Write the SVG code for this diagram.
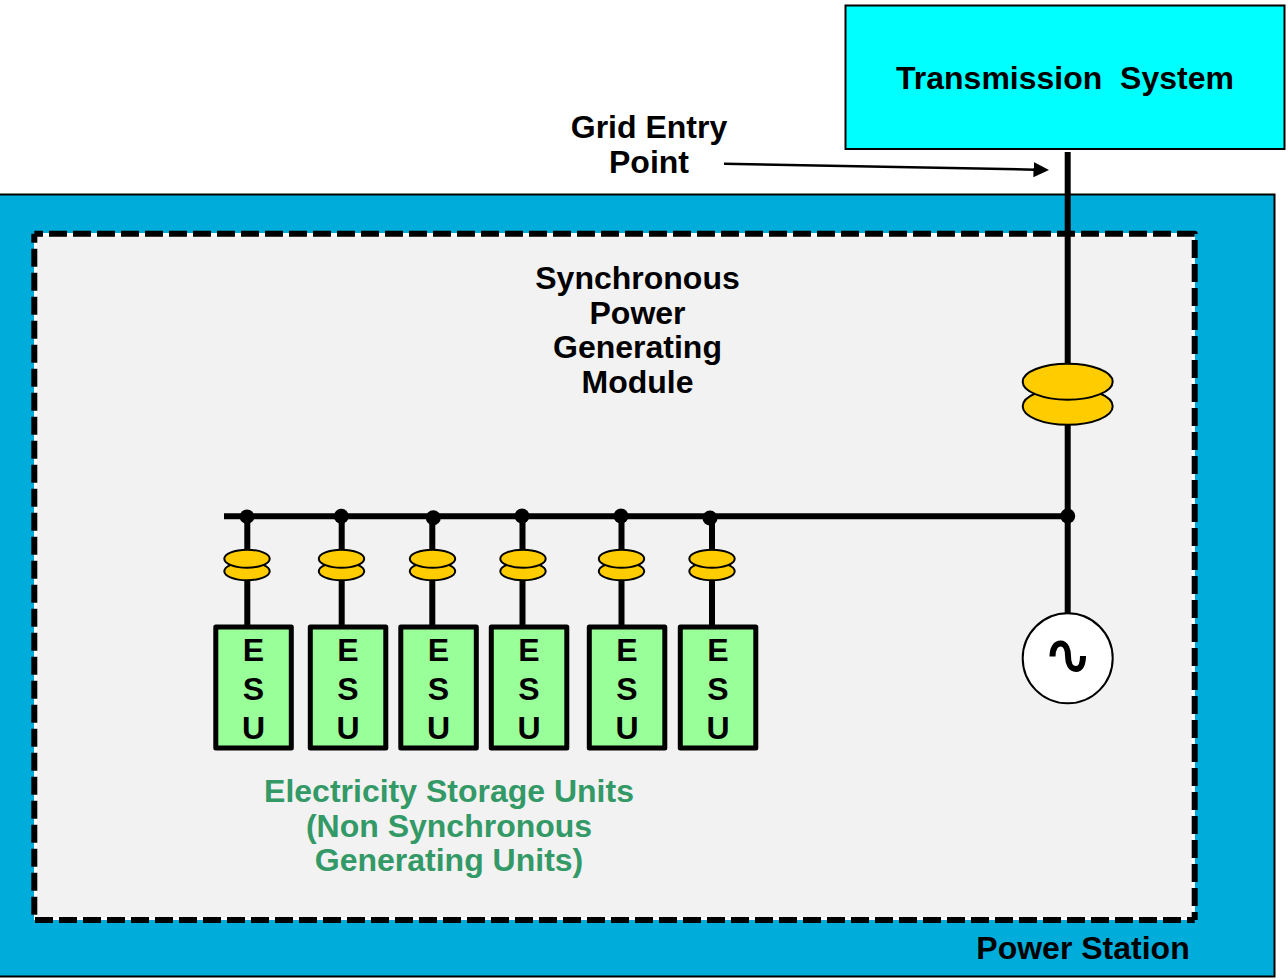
<svg xmlns="http://www.w3.org/2000/svg" width="1288" height="980" viewBox="0 0 1288 980">
<style>
text{font-family:"Liberation Sans",Arial,sans-serif;font-weight:bold;font-size:32px;text-anchor:middle;fill:#000}
.w{fill:none;stroke:#000;stroke-width:6}
.dot{fill:#000}
.ct{fill:#fc0;stroke:#000;stroke-width:2}
.esu{fill:#9f9;stroke:#000;stroke-width:5;stroke-linejoin:round}
.g{fill:#339966}
.dash{fill:none;stroke:#000;stroke-width:6;stroke-dasharray:18 6;stroke-linejoin:round}
</style>
<defs>
<marker id="arr" markerUnits="userSpaceOnUse" markerWidth="16" markerHeight="16" refX="2" refY="8" orient="auto"><path d="M0 0.300L15.500 8L0 15.700Z" fill="#000"/></marker>
<g id="ctSmall"><ellipse class="ct" cx="0" cy="12.300" rx="22.700" ry="9"/><ellipse class="ct" cx="0" cy="-0.300" rx="22.700" ry="9"/></g>
</defs>
<g id="power-station"><rect x="-3" y="194.500" width="1277.500" height="782" fill="#00acd9" stroke="#000" stroke-width="2"/><text x="1083" y="958.500">Power Station</text></g>
<g id="module"><rect x="35.500" y="234.500" width="1158" height="684" fill="#f2f2f2" stroke="#fff" stroke-width="3"/>
<path class="dash" stroke-dashoffset="9.300" d="M34.300 233.700H1194.700V920"/>
<path class="dash" stroke-dashoffset="10.300" d="M1194.700 920H34.300V233.700"/>
<text x="637.500" y="288.500">Synchronous</text><text x="637.500" y="323.500">Power</text><text x="637.500" y="358">Generating</text><text x="637.500" y="392.500">Module</text></g>
<g id="transmission-system"><rect x="845.500" y="5.500" width="439" height="143.500" fill="#0ff" stroke="#000" stroke-width="2"/><text x="1065" y="89" xml:space="preserve">Transmission  System</text></g>
<g id="grid-entry-label"><text x="649" y="137.500">Grid Entry</text><text x="649" y="172.500">Point</text></g>
<g id="connectors">
<path class="w" d="M1067.700 152V616"/>
<path class="w" d="M224 516.300H1068"/>
<path class="w" d="M247.300 517V627M341.700 517V627M432.300 517V627M522.500 517V627M621.500 517V627M712 517V627"/>
<path d="M724 163.800L1035.500 169.700" fill="none" stroke="#000" stroke-width="2.500" marker-end="url(#arr)"/>
<circle class="dot" cx="247" cy="516.700" r="7.300"/><circle class="dot" cx="341.300" cy="516.200" r="7.500"/><circle class="dot" cx="433.300" cy="517.700" r="7.500"/><circle class="dot" cx="522" cy="516" r="7.500"/><circle class="dot" cx="621" cy="516" r="7.500"/><circle class="dot" cx="710" cy="518" r="7.500"/><circle class="dot" cx="1067.700" cy="516" r="7.500"/>
</g>
<g id="main-ct"><ellipse class="ct" cx="1067.700" cy="406.300" rx="45" ry="18.500"/><ellipse class="ct" cx="1067.700" cy="381.700" rx="45" ry="18"/></g>
<g id="ct1"><use href="#ctSmall" x="247" y="559"/></g>
<g id="ct2"><use href="#ctSmall" x="341.500" y="559"/></g>
<g id="ct3"><use href="#ctSmall" x="432.500" y="559"/></g>
<g id="ct4"><use href="#ctSmall" x="523" y="559"/></g>
<g id="ct5"><use href="#ctSmall" x="621.500" y="559"/></g>
<g id="ct6"><use href="#ctSmall" x="712" y="559"/></g>
<g id="generator"><circle cx="1067.700" cy="658.300" r="45" fill="#fff" stroke="#000" stroke-width="2"/><path d="M1052.500 656.500C1052.500 648 1056 643.500 1060.500 643.500C1066 643.500 1068 650 1068 656C1068 663 1070.500 669 1076 669C1080.500 669 1083 664 1083 656" fill="none" stroke="#000" stroke-width="6"/></g>
<g id="esu1"><rect class="esu" x="215.800" y="627" width="75.500" height="121"/><text x="253.500" y="661">E</text><text x="253.500" y="699.500">S</text><text x="253.500" y="738.500">U</text></g>
<g id="esu2"><rect class="esu" x="310.300" y="627" width="75.500" height="121"/><text x="348" y="661">E</text><text x="348" y="699.500">S</text><text x="348" y="738.500">U</text></g>
<g id="esu3"><rect class="esu" x="400.800" y="627" width="75.500" height="121"/><text x="438.500" y="661">E</text><text x="438.500" y="699.500">S</text><text x="438.500" y="738.500">U</text></g>
<g id="esu4"><rect class="esu" x="491.300" y="627" width="75.500" height="121"/><text x="529" y="661">E</text><text x="529" y="699.500">S</text><text x="529" y="738.500">U</text></g>
<g id="esu5"><rect class="esu" x="589.300" y="627" width="75.500" height="121"/><text x="627" y="661">E</text><text x="627" y="699.500">S</text><text x="627" y="738.500">U</text></g>
<g id="esu6"><rect class="esu" x="680.300" y="627" width="75.500" height="121"/><text x="718" y="661">E</text><text x="718" y="699.500">S</text><text x="718" y="738.500">U</text></g>
<g id="esu-label"><text class="g" x="449" y="802">Electricity Storage Units</text><text class="g" x="449" y="837">(Non Synchronous</text><text class="g" x="449" y="871">Generating Units)</text></g>
</svg>
